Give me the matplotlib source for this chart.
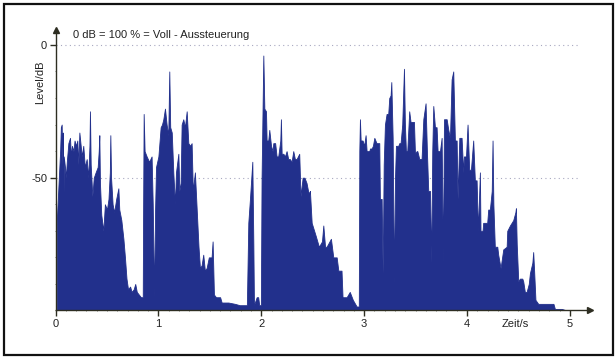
import numpy as np
import matplotlib.pyplot as plt
from matplotlib.patches import Rectangle

plt.rcParams['font.family'] = ['Liberation Sans', 'DejaVu Sans']
plt.rcParams['axes.unicode_minus'] = False

# Pegelverlauf (Huellkurve) eines Sprachsignals: Zeit in s, Pegel in dB
zeit_s = [
    0.000, 0.012, 0.013, 0.030, 0.045, 0.052, 0.060, 0.066, 0.071, 0.076,
    0.080, 0.092, 0.100, 0.110, 0.125, 0.141, 0.150, 0.160, 0.175, 0.185,
    0.200, 0.212, 0.222, 0.232, 0.245, 0.255, 0.270, 0.285, 0.303, 0.318,
    0.330, 0.335, 0.342, 0.358, 0.372, 0.390, 0.410, 0.420, 0.426, 0.432,
    0.445, 0.465, 0.480, 0.500, 0.515, 0.528, 0.533, 0.540, 0.555, 0.570,
    0.590, 0.611, 0.620, 0.640, 0.660, 0.675, 0.690, 0.705, 0.725, 0.740,
    0.760, 0.775, 0.790, 0.810, 0.830, 0.848,
    # zweites Wort
    0.852, 0.857, 0.866, 0.886, 0.910, 0.934, 0.945, 0.958, 0.968, 0.977,
    1.000, 1.022, 1.035, 1.048, 1.064, 1.080, 1.096, 1.106, 1.115, 1.130,
    1.145, 1.161, 1.171, 1.194, 1.204, 1.216, 1.226, 1.242, 1.258, 1.275,
    1.291, 1.310, 1.323, 1.335, 1.355, 1.370, 1.390, 1.404, 1.420, 1.436,
    1.452, 1.469, 1.490, 1.517, 1.527, 1.540, 1.560, 1.600, 1.615, 1.680,
    1.745, 1.790, 1.860, 1.874, 1.890, 1.913, 1.923, 1.929, 1.955, 1.970,
    1.980, 1.996,
    # drittes Wort
    2.003, 2.020, 2.030, 2.046, 2.052, 2.068, 2.078, 2.095, 2.110, 2.117,
    2.135, 2.149, 2.165, 2.185, 2.191, 2.198, 2.215, 2.230, 2.246, 2.262,
    2.278, 2.295, 2.311, 2.327, 2.343, 2.369, 2.382, 2.402, 2.420, 2.440,
    2.455, 2.467, 2.473, 2.490, 2.530, 2.560, 2.590, 2.603, 2.620, 2.635,
    2.677, 2.700, 2.733, 2.749, 2.780, 2.790, 2.830, 2.860, 2.890, 2.927,
    2.948,
    # viertes Wort
    2.953, 2.959, 2.966, 2.985, 3.000, 3.014, 3.024, 3.050, 3.057, 3.073,
    3.085, 3.099, 3.120, 3.147, 3.153, 3.170, 3.180, 3.190, 3.202, 3.218,
    3.234, 3.244, 3.257, 3.264, 3.277, 3.290, 3.300, 3.309, 3.332, 3.341,
    3.354, 3.370, 3.387, 3.396, 3.406, 3.419, 3.438, 3.451, 3.471, 3.484,
    3.494, 3.510, 3.517, 3.536, 3.558, 3.575, 3.597, 3.610, 3.623, 3.640,
    3.652, 3.662, 3.672, 3.688, 3.704, 3.714, 3.737, 3.753, 3.766, 3.776,
    3.802, 3.818, 3.834, 3.850, 3.866, 3.882, 3.899, 3.908, 3.925, 3.947,
    3.963, 3.970, 3.990, 4.005, 4.021, 4.038, 4.060, 4.076, 4.093, 4.106,
    4.125, 4.131, 4.151, 4.157, 4.174, 4.183, 4.196, 4.206, 4.222, 4.240,
    4.248, 4.256, 4.270, 4.294, 4.303, 4.326, 4.352, 4.385, 4.391, 4.417,
    4.449, 4.470, 4.475, 4.483, 4.498, 4.514, 4.537, 4.546, 4.562, 4.579,
    4.600, 4.611, 4.635, 4.643, 4.652, 4.665, 4.692, 4.760, 4.840, 4.854,
    4.920, 4.970, 5.000,
]
pegel_db = [
    -100, -100, -66, -52, -40, -31, -30, -45, -33, -67,
    -42, -46, -50, -44, -37, -35, -42, -38, -40, -36,
    -38, -36, -45, -33, -38, -42, -38, -46, -43, -50,
    -38, -25, -45, -57, -50, -48, -46, -40, -34, -52,
    -64, -70, -60, -62, -58, -48, -34, -50, -60, -63,
    -58, -54, -62, -66, -73, -80, -88, -92, -91, -93,
    -92, -90, -93, -94, -95, -95,
    -60, -26, -40, -42, -44, -42, -60, -95, -62, -46,
    -42, -31, -30, -28, -24, -30, -34, -10, -31, -33,
    -48, -60, -48, -41, -55, -52, -30, -28, -31, -25,
    -37, -38, -37, -55, -48, -60, -76, -84, -83, -79,
    -85, -84, -80, -80, -74, -94, -95, -95, -97, -97,
    -97.5, -98, -98, -67, -58, -44, -75, -98, -95, -95,
    -98, -98,
    -50, -4, -24, -25, -36, -36, -32, -38, -40, -37,
    -37, -42, -42, -36, -28, -41, -41, -42, -40, -43,
    -43, -44, -40, -43, -43, -41, -57, -50, -50, -52,
    -55, -56, -55, -67, -72, -76, -74, -68, -76, -76,
    -73, -80, -80, -85, -85, -95, -95, -93, -96, -98.5,
    -98.5,
    -40, -28, -36, -36, -38, -34, -40, -40, -39, -39,
    -38, -35, -37, -37, -58, -58, -86, -45, -30, -26,
    -26, -20, -19, -14, -35, -90, -50, -38, -38, -37,
    -37, -30, -9, -30, -40, -40, -25, -29, -29, -29,
    -41, -40, -40, -43, -43, -28, -22, -40, -55, -55,
    -82, -40, -23, -31, -31, -40, -40, -35, -82, -28,
    -28, -32, -35, -13, -10, -36, -36, -58, -35, -35,
    -48, -42, -42, -30, -47, -47, -36, -51, -51, -70,
    -48, -70, -70, -67, -67, -67, -67, -62, -62, -55,
    -36, -60, -76, -76, -79, -84, -77, -76, -70, -68,
    -66, -63, -61.5, -75, -89, -88, -88, -89, -93, -93,
    -90, -86, -82, -78, -85, -96, -97.5, -97.5, -97.5, -99.4,
    -99.4, -100, -100,
]

farbe = '#22308c'
achse = '#2e2e22'

fig = plt.figure(figsize=(6.16, 3.59), dpi=100)
ax = fig.add_axes([0.0901, 0.1351, 0.8685, 0.7813])

ax.fill_between(zeit_s, pegel_db, -100, color=farbe, linewidth=0.6,
                edgecolor=farbe)

ax.set_xlim(0, 5.2)
ax.set_ylim(-100, 5.6)

# gepunktete Hilfslinien bei 0 dB und -50 dB
for y in (0, -50):
    ax.plot([0, 5.1], [y, y], linestyle=(0, (1, 3)), color='#a8a8c0',
            linewidth=0.8, zorder=0)

for s in ('top', 'right'):
    ax.spines[s].set_visible(False)
for s in ('left', 'bottom'):
    ax.spines[s].set_color(achse)
    ax.spines[s].set_linewidth(1.0)

# Pfeilspitzen an den Achsen
ax.plot(0, 1, marker='^', color=achse, markersize=5, transform=ax.transAxes,
        clip_on=False)
ax.plot(1, 0, marker='>', color=achse, markersize=5, transform=ax.transAxes,
        clip_on=False)

ax.set_xticks([0, 1, 2, 3, 4, 5])
ax.set_yticks([0, -50])
ax.set_xticks(np.arange(0, 5.05, 0.1), minor=True)
ax.set_yticks(np.arange(-100, 1, 10), minor=True)
ax.tick_params(axis='both', which='major', length=4, width=1, color=achse,
               labelsize=8, labelcolor='#222222', pad=2)
ax.tick_params(axis='both', which='minor', length=1.0, width=0.5,
               color='#555544')

ax.text(-0.15, -14, 'Level/dB', rotation=90, ha='center', va='center',
        fontsize=8, color='#222222')
ax.text(4.47, -103.2, 'Zeit/s', ha='center', va='top', fontsize=8,
        color='#222222')
ax.text(0.17, 3.8, '0 dB = 100 % = Voll - Aussteuerung', ha='left',
        va='center', fontsize=8, color='#222222')

# Rahmen um die ganze Grafik
fig.patches.append(Rectangle((4 / 616, 4 / 359), 609 / 616, 351 / 359,
                             transform=fig.transFigure, fill=False,
                             edgecolor='#111111', linewidth=1.6))

fig.savefig('out.png', dpi=100)
